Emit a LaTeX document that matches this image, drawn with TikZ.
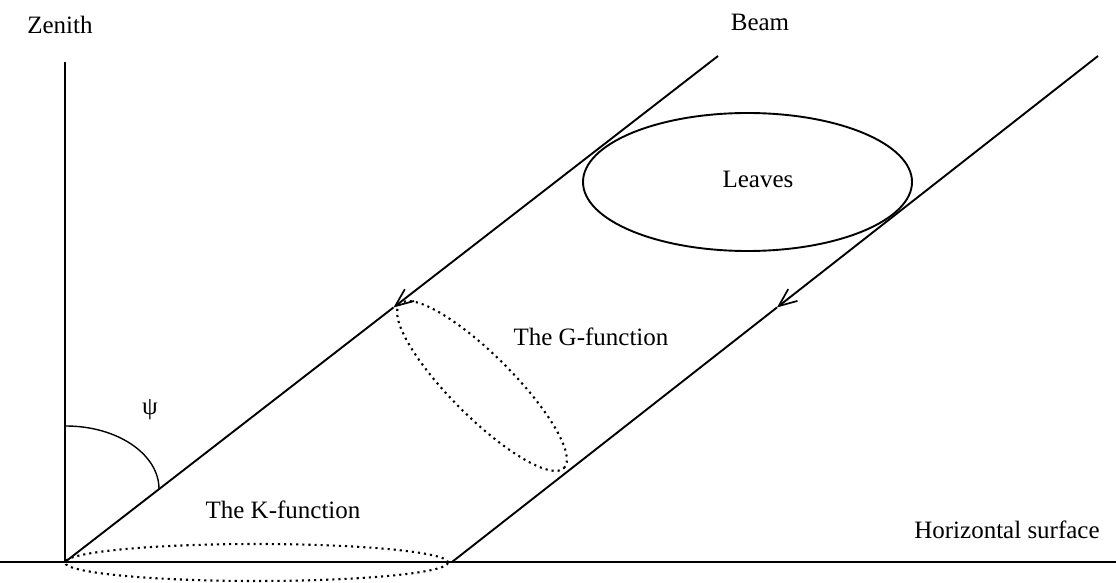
\documentclass[tikz,border=0pt]{standalone}
\usepackage{fontspec}
\setmainfont{Liberation Serif}
\usetikzlibrary{arrows.meta,calc}
\tikzset{
  solidline/.style={line width=1.9pt},
  dotline/.style={line width=2.1pt, dash pattern=on 2.1pt off 4pt},
  beamarrow/.style={solidline, -{Straight Barb[length=18pt,width=15pt,line width=1.7pt]}},
  lbl/.style={font=\fontsize{25}{29}\selectfont, inner sep=0pt}
}
\begin{document}
\begin{tikzpicture}[x=1pt,y=1pt]
\useasboundingbox (0,0) rectangle (1116,582);
% coordinates
\coordinate (O) at (65,20);
\coordinate (Ztop) at (65,520);
\coordinate (H0) at (0,20);
\coordinate (H1) at (1116,20);
\coordinate (Ltop) at (718,526);
\coordinate (R0) at (452,20);
\coordinate (Rtop) at (1098,526);
\coordinate (Lmid) at ($(Ltop)!0.497!(O)$);
\coordinate (Rmid) at ($(Rtop)!0.497!(R0)$);
% axes
\draw[solidline] (O) -- (Ztop);
\draw[solidline] (H0) -- (H1);
% beams
\draw[beamarrow] (Ltop) -- (Lmid);
\draw[solidline] (Lmid) -- (O);
\draw[beamarrow] (Rtop) -- (Rmid);
\draw[solidline] (Rmid) -- (R0);
% angle arc
\coordinate (Atop) at (66,156);
\draw[line width=1.4pt] (Atop) arc[start angle=90, end angle=0, x radius=93, y radius=63];
\node[lbl] (psi) at (150,172) {ψ};
% ellipses
\draw[solidline] (747.5,400) ellipse[x radius=164.5, y radius=69];
\node[lbl] (leaves) at (758,403) {Leaves};
\draw[dotline, rotate around={-45:(482,196)}] (482,196) ellipse[x radius=116, y radius=31];
\draw[dotline] (256.5,19.5) ellipse[x radius=191.5, y radius=18.5];
% labels
\node[lbl] (zenith) at (60,557) {Zenith};
\node[lbl] (beam) at (760,560) {Beam};
\node[lbl] (gfun) at (591,245) {The G-function};
\node[lbl] (kfun) at (283,72) {The K-function};
\node[lbl] (hsurf) at (1007,52) {Horizontal surface};
\end{tikzpicture}
\end{document}
